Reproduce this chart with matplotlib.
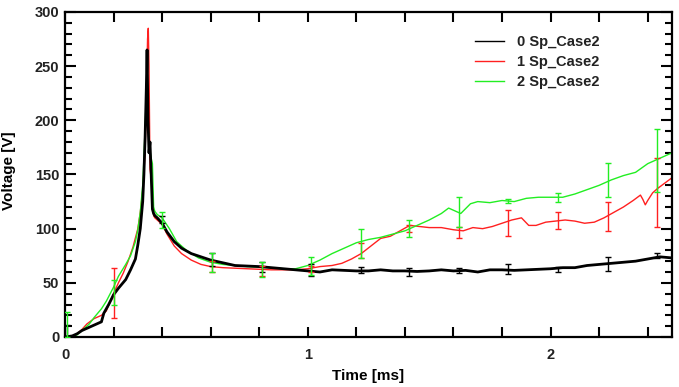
import matplotlib
matplotlib.use("Agg")
import matplotlib.pyplot as plt
from matplotlib.ticker import MultipleLocator, FuncFormatter
import numpy as np

plt.rcParams['font.family'] = ['Liberation Sans', 'DejaVu Sans']

# ---------------- data ----------------
black_t = [0, 0.03, 0.05, 0.07, 0.1, 0.13, 0.15, 0.16, 0.18, 0.2,
           0.22, 0.25, 0.27, 0.29, 0.30, 0.31, 0.32, 0.325, 0.33, 0.335,
           0.338, 0.342, 0.346, 0.35, 0.355, 0.36, 0.365, 0.37, 0.38, 0.40,
           0.42, 0.45, 0.48, 0.52, 0.56, 0.60, 0.64, 0.68, 0.70, 0.75,
           0.80, 0.85, 0.90, 0.95, 1.0, 1.05, 1.1, 1.15, 1.2, 1.25,
           1.3, 1.35, 1.4, 1.45, 1.5, 1.55, 1.6, 1.65, 1.7, 1.75,
           1.8, 1.85, 1.9, 1.95, 2.0, 2.05, 2.1, 2.15, 2.2, 2.25,
           2.3, 2.35, 2.4, 2.45, 2.5]
black_v = [0, 1, 3, 6, 9, 12, 14, 22, 30, 39,
           45, 53, 62, 72, 85, 100, 125, 150, 185, 230,
           265, 200, 170, 180, 150, 118, 114, 112, 110, 105,
           97, 88, 82, 77, 74, 71, 69, 67, 66, 65.5,
           65, 64, 63, 62, 61, 60, 62, 61.5, 61, 61,
           62, 61, 61, 60.5, 61, 62, 61, 61.5, 60, 62,
           62, 61.5, 62, 62.5, 63, 64, 64, 66, 67, 68,
           69, 70, 72, 74, 73]

red_t = [0, 0.03, 0.05, 0.07, 0.09, 0.12, 0.15, 0.17, 0.2, 0.22,
         0.24, 0.26, 0.28, 0.30, 0.31, 0.32, 0.33, 0.336, 0.340, 0.343,
         0.346, 0.35, 0.353, 0.357, 0.36, 0.365, 0.37, 0.38, 0.40, 0.42,
         0.45, 0.48, 0.52, 0.56, 0.60, 0.65, 0.70, 0.75, 0.80, 0.85,
         0.90, 0.95, 1.0, 1.05, 1.10, 1.14, 1.18, 1.22, 1.26, 1.30,
         1.34, 1.38, 1.42, 1.46, 1.50, 1.55, 1.60, 1.64, 1.68, 1.72,
         1.76, 1.80, 1.84, 1.88, 1.91, 1.94, 1.98, 2.02, 2.06, 2.10,
         2.14, 2.18, 2.22, 2.26, 2.30, 2.34, 2.37, 2.38, 2.39, 2.40,
         2.42, 2.44, 2.47, 2.5]
red_v = [0, 0, 3, 7, 12, 17, 20, 24, 40, 50,
         59, 70, 83, 100, 115, 135, 170, 230, 275, 285,
         250, 155, 150, 140, 125, 112, 110, 108, 104, 95,
         84, 77, 71, 67, 65, 64, 63.5, 63, 62.5, 62,
         62, 62, 63, 65, 66, 68, 72, 77, 84, 91,
         93, 98, 103, 102, 101, 101, 99, 98, 101, 100,
         102, 105, 108, 110, 103, 103, 106, 107, 108, 107,
         105, 106, 110, 115, 120, 126, 131, 127, 122, 126,
         133, 137, 142, 147]

green_t = [0, 0.03, 0.05, 0.07, 0.1, 0.12, 0.15, 0.17, 0.2, 0.22,
           0.25, 0.27, 0.29, 0.30, 0.31, 0.32, 0.325, 0.33, 0.335, 0.338,
           0.342, 0.346, 0.35, 0.355, 0.36, 0.365, 0.37, 0.38, 0.40, 0.43,
           0.46, 0.50, 0.55, 0.60, 0.65, 0.70, 0.75, 0.80, 0.85, 0.90,
           0.95, 1.0, 1.05, 1.10, 1.15, 1.20, 1.25, 1.30, 1.35, 1.40,
           1.45, 1.50, 1.55, 1.58, 1.60, 1.63, 1.67, 1.70, 1.75, 1.80,
           1.85, 1.90, 1.95, 2.0, 2.05, 2.10, 2.15, 2.20, 2.25, 2.30,
           2.35, 2.40, 2.45, 2.5]
green_v = [0, 0, 2, 6, 12, 18, 26, 33, 46, 56,
           67, 75, 88, 99, 115, 140, 165, 193, 225, 245,
           200, 175, 172, 165, 160, 120, 116, 113, 110, 100,
           88, 80, 73, 69, 67, 66, 65, 64.5, 64, 63,
           63, 66, 71, 77, 82, 87, 90, 92, 95, 98,
           103, 108, 114, 119, 117, 114, 123, 125, 124, 126,
           125, 128, 129, 129, 129, 132, 136, 140, 145, 149,
           152, 160, 165, 170]

# error bars: positions, lower and upper limits
black_err_t = [0.01, 0.40, 0.607, 0.81, 1.012, 1.219, 1.417, 1.624, 1.826, 2.03, 2.235, 2.44]
black_err_lo = [0, 105, 66, 60, 56, 59, 56, 59, 58, 60, 61, 73]
black_err_hi = [11, 112, 78, 69, 67, 65, 64, 64, 67, 65, 74, 78]

red_err_t = [0.2, 0.607, 0.81, 1.012, 1.219, 1.417, 1.624, 1.826, 2.03, 2.235, 2.44]
red_err_lo = [18, 60, 56, 60, 73, 97, 91, 93, 100, 98, 102]
red_err_hi = [64, 70, 66, 66, 87, 103, 102, 117, 115, 125, 165]

green_err_t = [0.01, 0.2, 0.40, 0.607, 0.81, 1.012, 1.219, 1.417, 1.624, 1.826, 2.03, 2.235, 2.44]
green_err_lo = [0, 30, 101, 60, 55, 57, 73, 92, 102, 124, 125, 129, 134]
green_err_hi = [23, 53, 115, 78, 69, 74, 100, 108, 129, 127, 133, 161, 192]

labels = ["0 Sp_Case2", "1 Sp_Case2", "2 Sp_Case2"]
colors = ["#000000", "#ff2020", "#22ee22"]

# ---------------- plot ----------------
fig = plt.figure(figsize=(6.79, 3.87), dpi=100)
ax = fig.add_axes([65/679, 1-337/387, (672-65)/679, (337-12)/387])

series = [(black_t, black_v, 2.0), (red_t, red_v, 1.0), (green_t, green_v, 1.0)]
errs = [(black_err_t, black_err_lo, black_err_hi),
        (red_err_t, red_err_lo, red_err_hi),
        (green_err_t, green_err_lo, green_err_hi)]

for (t, v, lw), lab, c in zip(series, labels, colors):
    ax.plot(t, v, color=c, lw=lw, label=lab, zorder=3 if c == "#000000" else 2)

for (et, lo, hi), c in zip(errs, colors):
    lo = np.array(lo, float); hi = np.array(hi, float)
    ctr = (lo + hi) / 2
    ax.errorbar(et, ctr, yerr=(hi - lo) / 2, fmt='none', ecolor=c,
                elinewidth=1.0, capsize=2.2, capthick=1.0, zorder=4)

ax.set_xlim(0, 2.5)
ax.set_ylim(0, 300)

ax.xaxis.set_major_locator(MultipleLocator(0.2))
ax.xaxis.set_major_formatter(FuncFormatter(
    lambda x, p: f"{int(round(x))}" if abs(x - round(x)) < 1e-6 else ""))
ax.yaxis.set_major_locator(MultipleLocator(50))
ax.yaxis.set_minor_locator(MultipleLocator(10))

ax.tick_params(axis='both', which='both', direction='in', top=True, right=True,
               width=1.5, labelsize=10.5)
ax.tick_params(axis='x', which='major', length=7, pad=8)
ax.tick_params(axis='y', which='major', length=8, pad=4)
ax.tick_params(axis='y', which='minor', length=5)
for lab in ax.get_xticklabels() + ax.get_yticklabels():
    lab.set_fontweight('bold')
    lab.set_color('#222222')

for s in ax.spines.values():
    s.set_linewidth(1.6)

ax.set_xlabel("Time [ms]", fontsize=11, fontweight='bold', labelpad=5)
fig.text(0.013, 0.56, "Voltage [V]", rotation=90, fontsize=11,
         fontweight='bold', ha='center', va='center')

leg = ax.legend(loc='upper right', bbox_to_anchor=(0.903, 0.97), frameon=False,
                fontsize=10.5, handlelength=2.0, handletextpad=0.9,
                labelspacing=0.42)
for txt in leg.get_texts():
    txt.set_fontweight('bold')
    txt.set_color('#222222')
for h in leg.get_lines():
    h.set_linewidth(1.0)

fig.savefig("out.png", dpi=100)
